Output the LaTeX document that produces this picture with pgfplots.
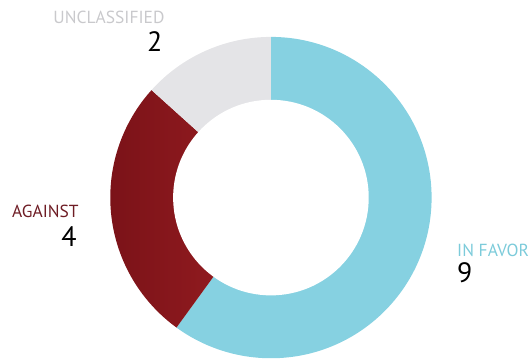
\documentclass[border=0pt]{standalone}
\usepackage{pgfplots}
\pgfplotsset{compat=1.18}
\usepackage{pgfplotstable}
\usepackage{fontspec}
\setmainfont{PT Sans}
\definecolor{favor}{HTML}{86D1E1}
\definecolor{favorL}{HTML}{9ADAE7}
\definecolor{against}{HTML}{9A1E22}
\definecolor{againstD}{HTML}{7A1218}
\definecolor{uncl}{HTML}{E4E4E7}
\definecolor{lblUncl}{HTML}{C9C9CC}
\definecolor{lblAgainst}{HTML}{6E1C24}
\definecolor{lblFavor}{HTML}{7CCBDA}
\pgfplotstableread{
label value
favor 9
against 4
unclassified 2
}\datatable
\begin{document}
\begin{tikzpicture}
\pgfplotstablegetelem{0}{value}\of\datatable \let\vA\pgfplotsretval
\pgfplotstablegetelem{1}{value}\of\datatable \let\vB\pgfplotsretval
\pgfplotstablegetelem{2}{value}\of\datatable \let\vC\pgfplotsretval
\pgfmathsetmacro\total{\vA+\vB+\vC}
\pgfmathsetmacro\aA{90-360*\vA/\total}
\pgfmathsetmacro\aB{\aA-360*\vB/\total}
\pgfmathsetmacro\aC{\aB-360*\vC/\total}
\path (0,0) rectangle (529pt,363pt);
\begin{axis}[scale only axis, width=529pt, height=363pt,
  xmin=0, xmax=529, ymin=0, ymax=363, hide axis, clip=false,
  anchor=south west, at={(0,0)}]
\fill[favor] (axis cs:271.5,165) -- ++(90:161pt) arc[start angle=90, end angle=\aA, radius=161pt] -- cycle;
\shade[left color=againstD, right color=against] (axis cs:271.5,165) -- ++(\aA:161pt) arc[start angle=\aA, end angle=\aB, radius=161pt] -- cycle;
\fill[uncl] (axis cs:271.5,165) -- ++(\aB:161pt) arc[start angle=\aB, end angle=\aC, radius=161pt] -- cycle;
\fill[white] (axis cs:271.5,165) circle[radius=98pt];
\node[anchor=base east, inner sep=0pt, text=lblUncl, font=\fontsize{17.5}{17.5}\selectfont] at (axis cs:165,339) {UNCLASSIFIED};
\node[anchor=base east, inner sep=0pt, text=black, font=\fontsize{28}{28}\selectfont] at (axis cs:163,311) {\vC};
\node[anchor=base east, inner sep=0pt, text=lblAgainst, font=\fontsize{17.5}{17.5}\selectfont] at (axis cs:79,145) {AGAINST};
\node[anchor=base east, inner sep=0pt, text=black, font=\fontsize{28}{28}\selectfont] at (axis cs:77,116) {\vB};
\node[anchor=base west, inner sep=0pt, text=lblFavor, font=\fontsize{17.5}{17.5}\selectfont] at (axis cs:458,106) {IN FAVOR};
\node[anchor=base west, inner sep=0pt, text=black, font=\fontsize{28}{28}\selectfont] at (axis cs:458,80) {\vA};
\end{axis}
\end{tikzpicture}
\end{document}
